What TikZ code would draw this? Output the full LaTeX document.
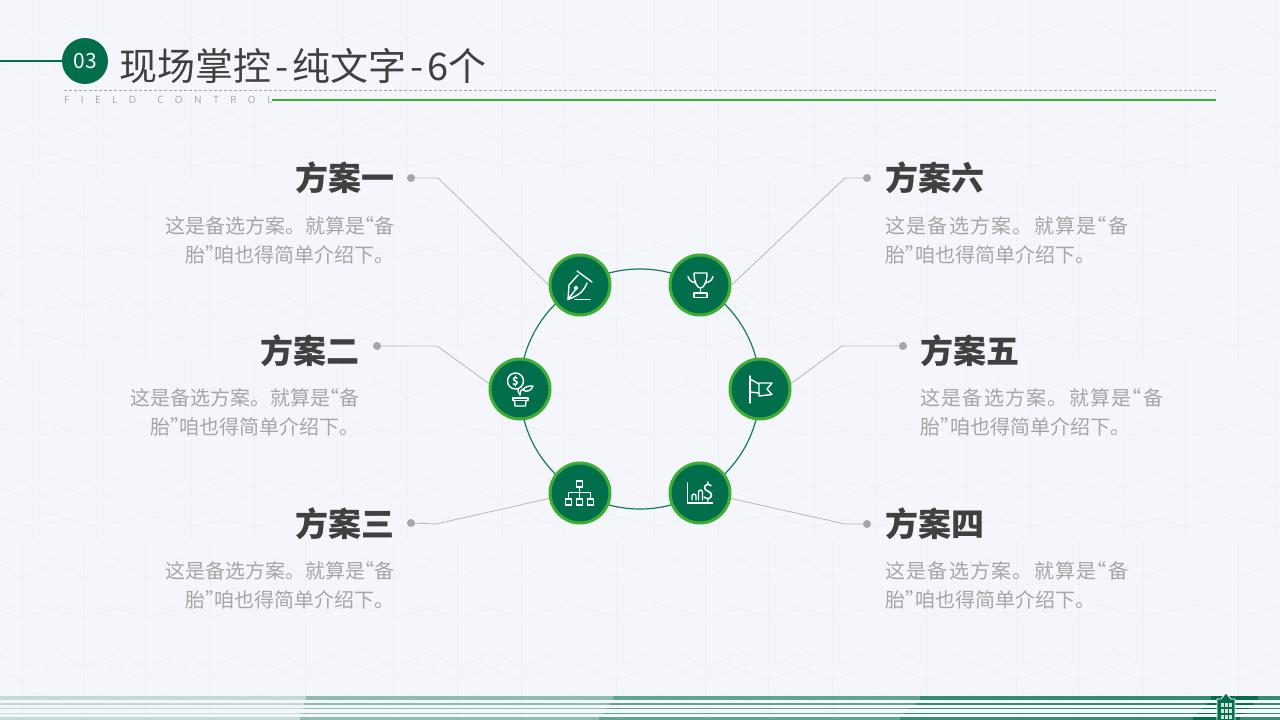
\documentclass[tikz,border=0pt]{standalone}
\usepackage{fontspec}
\usepackage{xcolor}
\newfontfamily\spreadfont[LetterSpace=6.5]{Noto Sans CJK SC}
\newfontfamily\fieldfont[LetterSpace=115,WordSpace=1.5]{Open Sans}
\setmainfont{Noto Sans CJK SC}
\definecolor{pagebg}{HTML}{F4F6FB}
\definecolor{texline}{HTML}{EEF0F5}
\definecolor{deepgreen}{HTML}{026E4C}
\definecolor{brightgreen}{HTML}{3FAE35}
\definecolor{headgray}{HTML}{404040}
\definecolor{bodygray}{HTML}{A6A6A6}
\definecolor{linkgray}{HTML}{B8B8B8}
\newcommand{\wheatblock}[2]{
	\draw [texline,line width=0.5pt] (#1,#2) -- (#1,#2+180);
	\draw [texline,line width=0.5pt] (#1-33,#2+17) -- (#1,#2+38) -- (#1+34,#2+23);
	\draw [texline,line width=0.5pt] (#1-53,#2+62) -- (#1,#2+77) -- (#1+42,#2+67);
	\draw [texline,line width=0.5pt] (#1-33,#2+107) -- (#1,#2+128) -- (#1+34,#2+113);
	\draw [texline,line width=0.5pt] (#1-41,#2+123) -- (#1,#2+141) -- (#1+44,#2+123);
	\draw [texline,line width=0.5pt] (#1-53,#2+152) -- (#1,#2+167) -- (#1+42,#2+157);
}
\begin{document}
\begin{tikzpicture}[x=1pt,y=-1pt]
	\tikzstyle{every node}+=[inner sep=0pt]
	\tikzstyle{iconnode}=[circle,draw=brightgreen,fill=deepgreen,line width=3pt,minimum size=60pt]
	\tikzstyle{dotmark}=[circle,fill=bodygray,minimum size=8pt]
	\tikzstyle{headtext}=[text=headgray,font=\fontsize{33}{38}\selectfont\bfseries]
	\tikzstyle{bodytext}=[text=bodygray,font=\fontsize{20}{29}\selectfont]
	\tikzstyle{linkline}=[linkgray,line width=0.8pt]
	\tikzstyle{iconline}=[white,line width=1.4pt,line join=round,line cap=round]
	\useasboundingbox (0,0) rectangle (1280,720);
	\fill [pagebg] (0,0) rectangle (1280,720);
	\foreach \xt in {32,96,191,253,343,407,502,564,654,718,813,875,965,1029,1124,1186,1276} {
		\wheatblock{\xt}{0}
		\wheatblock{\xt}{360}
	}
	\foreach \xt in {-28,21,83,146,210,305,394,457,521,616,705,768,832,927,1016,1079,1143,1238} {
		\wheatblock{\xt}{180}
		\wheatblock{\xt}{540}
	}
	\fill [deepgreen,opacity=0.2] (0,696) rectangle (306,700);
	\fill [deepgreen,opacity=0.42] (306,696) rectangle (613,700);
	\fill [deepgreen,opacity=0.6] (613,696) rectangle (920,700);
	\fill [deepgreen,opacity=0.78] (920,696) rectangle (1280,700);
	\fill [deepgreen,opacity=0.2] (0,703) rectangle (304,705);
	\fill [deepgreen,opacity=0.42] (304,703) rectangle (610,705);
	\fill [deepgreen,opacity=0.6] (610,703) rectangle (915,705);
	\fill [deepgreen,opacity=0.78] (915,703) rectangle (1280,705);
	\fill [deepgreen,opacity=0.2] (0,708) rectangle (303,709);
	\fill [deepgreen,opacity=0.42] (303,708) rectangle (606,709);
	\fill [deepgreen,opacity=0.6] (606,708) rectangle (909,709);
	\fill [deepgreen,opacity=0.78] (909,708) rectangle (1280,709);
	\fill [deepgreen,opacity=0.2] (0,713) rectangle (301,714);
	\fill [deepgreen,opacity=0.42] (301,713) rectangle (603,714);
	\fill [deepgreen,opacity=0.6] (603,713) rectangle (904,714);
	\fill [deepgreen,opacity=0.78] (904,713) rectangle (1280,714);
	\fill [deepgreen,opacity=0.2] (0,717) rectangle (300,720);
	\fill [deepgreen,opacity=0.42] (300,717) rectangle (599,720);
	\fill [deepgreen,opacity=0.6] (599,717) rectangle (900,720);
	\fill [deepgreen,opacity=0.78] (900,717) rectangle (1280,720);
	\fill [deepgreen] (1211,696) rectangle (1258,700);
	\fill [deepgreen] (1207,703) rectangle (1254,705);
	\fill [deepgreen] (1202,708) rectangle (1249,709);
	\fill [deepgreen] (1198,713) rectangle (1245,714);
	\fill [deepgreen] (1193,717) rectangle (1240,720);
	\fill [deepgreen,draw=white,line width=0.8pt] (1217,720) -- (1217,699) -- (1221,699) -- (1226,693) -- (1231,699) -- (1235,699) -- (1235,720);
	\fill [white,opacity=0.8] (1220.5,703) rectangle (1223.5,707);
	\fill [white,opacity=0.8] (1224.5,703) rectangle (1227.5,707);
	\fill [white,opacity=0.8] (1228.5,703) rectangle (1231.5,707);
	\fill [white,opacity=0.8] (1220.5,709) rectangle (1223.5,713);
	\fill [white,opacity=0.8] (1224.5,709) rectangle (1227.5,713);
	\fill [white,opacity=0.8] (1228.5,709) rectangle (1231.5,713);
	\fill [white,opacity=0.8] (1220.5,715) rectangle (1223.5,719);
	\fill [white,opacity=0.8] (1224.5,715) rectangle (1227.5,719);
	\fill [white,opacity=0.8] (1228.5,715) rectangle (1231.5,719);

	\node [circle,fill=deepgreen,minimum size=46pt] (badge) at (85,61) {};
	\node [text=white,font=\fontsize{21}{24}\selectfont] (badgenum) at (85,61) {03};
	\coordinate (leftend) at (0,61);
	\draw [deepgreen,line width=2pt] (leftend) -- (badge);
	\node [anchor=west,text=headgray,font=\fontsize{38}{44}\selectfont] (title) at (119,66) {现场掌控\kern4pt-\kern4pt纯文字\kern4pt-\kern4pt6个};
	\coordinate (dashA) at (64,90);
	\coordinate (dashB) at (1216,90);
	\draw [bodygray,line width=0.6pt,densely dashed] (dashA) -- (dashB);
	\node [anchor=west,text=bodygray,font=\fontsize{10}{11}\fieldfont] (subtitle) at (64,100) {FIELD CONTROL};
	\coordinate (ruleA) at (272,100);
	\coordinate (ruleB) at (1216,100);
	\draw [brightgreen,line width=2.6pt] (ruleA) -- (ruleB);

	\coordinate (hub) at (640,389);
	\draw [deepgreen!92!white,line width=1.2pt] (hub) circle (120);
	\node [iconnode] (iconA) at (580,285) {};
	\node [iconnode] (iconB) at (520,389) {};
	\node [iconnode] (iconC) at (580,493) {};
	\node [iconnode] (iconD) at (700,493) {};
	\node [iconnode] (iconE) at (760,389) {};
	\node [iconnode] (iconF) at (700,285) {};

	\node [dotmark] (dotA) at (411,178) {};
	\node [dotmark] (dotB) at (377,346) {};
	\node [dotmark] (dotC) at (411,523) {};
	\node [dotmark] (dotD) at (867,524) {};
	\node [dotmark] (dotE) at (903,346) {};
	\node [dotmark] (dotF) at (867,178) {};
	\coordinate (bendA) at (438,178);
	\coordinate (bendB) at (437,346);
	\coordinate (bendC) at (436,524);
	\coordinate (bendD) at (845,524);
	\coordinate (bendE) at (842,346);
	\coordinate (bendF) at (845,178);
	\draw [linkline] (dotA) -- (bendA) -- (iconA.west);
	\draw [linkline] (dotB) -- (bendB) -- (iconB.170);
	\draw [linkline] (dotC) -- (bendC) -- (iconC.190);
	\draw [linkline] (dotD) -- (bendD) -- (iconD.-10);
	\draw [linkline] (dotE) -- (bendE) -- (iconE.10);
	\draw [linkline] (dotF) -- (bendF) -- (iconF.east);

	\node [headtext,anchor=east] (headA) at (395,178) {方案一};
	\node [headtext,anchor=east] (headB) at (360,351) {方案二};
	\node [headtext,anchor=east] (headC) at (395,524) {方案三};
	\node [headtext,anchor=west] (headD) at (885,524) {方案四};
	\node [headtext,anchor=west] (headE) at (920,351) {方案五};
	\node [headtext,anchor=west] (headF) at (885,178) {方案六};
	\node [bodytext,anchor=east,align=right] (textA) at (395,240) {这是备选方案。就算是\kern-11pt“备\\胎”\kern-11pt咱也得简单介绍下。};
	\node [bodytext,anchor=east,align=right] (textB) at (360,412) {这是备选方案。就算是\kern-11pt“备\\胎”\kern-11pt咱也得简单介绍下。};
	\node [bodytext,anchor=east,align=right] (textC) at (395,585) {这是备选方案。就算是\kern-11pt“备\\胎”\kern-11pt咱也得简单介绍下。};
	\node [bodytext,anchor=west,align=left] (textD) at (885,585) {{\spreadfont 这是备选方案。就算是\kern-10pt“备}\\胎”\kern-10pt咱也得简单介绍下。};
	\node [bodytext,anchor=west,align=left] (textE) at (920,412) {{\spreadfont 这是备选方案。就算是\kern-10pt“备}\\胎”\kern-10pt咱也得简单介绍下。};
	\node [bodytext,anchor=west,align=left] (textF) at (885,240) {{\spreadfont 这是备选方案。就算是\kern-10pt“备}\\胎”\kern-10pt咱也得简单介绍下。};

	\begin{scope}[shift={(iconA)}]
		\draw [iconline] (-12,14.5) -- (-11,0) -- (-2,-10);
		\draw [iconline] (-3,-14) -- (12,-3);
		\draw [iconline] (7,-2) .. controls (4,5) and (2,9) .. (-12,14.5) -- (-4,4);
		\draw [iconline] (-4,3) circle (1.6);
		\draw [iconline] (-5,14.5) -- (10,14.5);
	\end{scope}
	\begin{scope}[shift={(iconF)}]
		\draw [iconline] (-6,-12) -- (7,-12) .. controls (7,-3) and (4,3) .. (0.5,3) .. controls (-3,3) and (-6,-3) .. (-6,-12);
		\draw [iconline] (-12,-8.5) .. controls (-11,-5) and (-9,-3) .. (-4,-2);
		\draw [iconline] (13,-8.5) .. controls (12,-5) and (10,-3) .. (5,-2);
		\draw [iconline] (0.5,3) -- (0.5,8);
		\draw [iconline] (-6,8) rectangle (7,12.5);
	\end{scope}
	\begin{scope}[shift={(iconB)}]
		\draw [iconline] (-4.5,-8) circle (8);
		\node [text=white,font=\fontsize{11}{11}\selectfont\bfseries] (coin) at (-4.5,-8) {\$};
		\draw [iconline] (0,6) .. controls (-2,3) and (-2,1) .. (-2,0);
		\draw [iconline] (0,6) .. controls (0,2) and (2,0) .. (3,0);
		\draw [iconline] (3,1) .. controls (5,-3) and (9,-3) .. (13,-3) .. controls (12,1) and (7,4) .. (3,1);
		\draw [iconline] (-7,9) rectangle (8,11.5);
		\draw [iconline] (-5.5,11.5) -- (-5,17) -- (5.5,17) -- (6,11.5);
	\end{scope}
	\begin{scope}[shift={(iconE)}]
		\draw [iconline] (-10,-13) -- (-10,14);
		\draw [iconline] (-10,-10) -- (-1,-5) -- (-1,4) -- (-10,3);
		\draw [iconline] (-1,-6) -- (12,-6) -- (7,0) -- (12,5.5) -- (-1,7) -- (-1,4);
	\end{scope}
	\begin{scope}[shift={(iconC)}]
		\draw [iconline] (-3.5,-12) rectangle (2.5,-6);
		\draw [iconline] (-0.5,-6) -- (-0.5,6);
		\draw [iconline] (-11.5,6) -- (-11.5,-0.5) -- (10.5,-0.5) -- (10.5,6);
		\draw [iconline] (-14.5,6) rectangle (-8.5,12);
		\draw [iconline] (-3.5,6) rectangle (2.5,12);
		\draw [iconline] (7.5,6) rectangle (13.5,12);
	\end{scope}
	\begin{scope}[shift={(iconD)}]
		\draw [iconline] (-12.5,-10) -- (-12.5,10) -- (12.5,10);
		\draw [iconline] (-8,7) -- (-8,3) .. controls (-8,0.5) and (-4,0.5) .. (-4,3) -- (-4,7);
		\draw [iconline] (-1.5,7) -- (-1.5,-1) .. controls (-1.5,-3.5) and (2.5,-3.5) .. (2.5,-1) -- (2.5,7);
		\node [text=white,font=\fontsize{21}{21}\selectfont] (cash) at (8.5,-1) {\$};
	\end{scope}
\end{tikzpicture}
\end{document}
